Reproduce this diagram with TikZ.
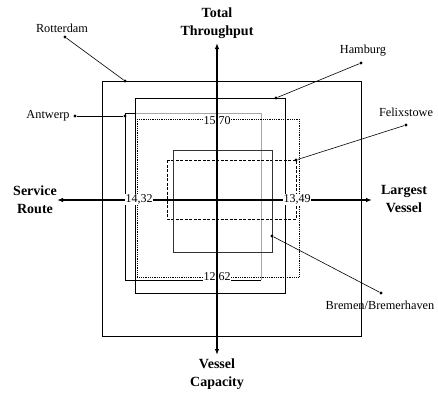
\documentclass[tikz,border=0pt]{standalone}
\usepackage{fontspec}
\setmainfont{Liberation Serif}
\usetikzlibrary{arrows.meta}
\begin{document}
\begin{tikzpicture}[x=1pt,y=-1pt,
  axis/.style={line width=1.4pt,{Latex[length=6pt,width=4.5pt]}-{Latex[length=6pt,width=4.5pt]}},
  axlabel/.style={font=\fontsize{14}{18}\selectfont\bfseries, align=center, inner sep=0pt},
  port/.style={font=\fontsize{12.3}{14}\selectfont, inner sep=0pt},
  val/.style={font=\fontsize{12}{14}\selectfont, fill=white, inner sep=0.6pt},
  pdot/.style={circle, fill=black, inner sep=0pt, minimum size=3.4pt},
  leader/.style={line width=0.6pt},
  rotter/.style={line width=0.6pt},
  hamb/.style={line width=0.8pt},
  antw/.style={line width=0.6pt},
  meanbox/.style={line width=0.8pt, densely dotted},
  felix/.style={line width=0.6pt, dash pattern=on 3pt off 1.5pt},
  bremen/.style={line width=0.5pt, black!80}
]
\useasboundingbox (0,0) rectangle (438,392);

% axes end points
\coordinate (axT) at (217,43);
\coordinate (axB) at (217,355);
\coordinate (axL) at (57,200);
\coordinate (axR) at (372,200);

% rectangles
\draw[rotter] (102,81) rectangle (361,336);
\draw[hamb] (135,98) rectangle (285,293);
\draw[antw, black!35] (136,113) -- (261,113) -- (261,280);
\draw[antw] (136,113) -- (125,113) -- (125,280) -- (261,280);
\draw[meanbox] (137,119) rectangle (299,277);
\draw[felix] (167,160) rectangle (296,219);
\draw[bremen] (173,150) rectangle (272,252);

% horizontal axis
\draw[axis] (axL) -- (axR);

% values
\node[val] (v1) at (217,121) {15,70};
\node[val] (v2) at (139,199) {14,32};
\node[val] (v3) at (297,199) {13,49};
\node[val] (v4) at (217,277) {12,62};

% vertical axis
\draw[axis] (axT) -- (axB);

% axis labels
\node[axlabel] (tt) at (217,23) {Total\\Throughput};
\node[axlabel] (sr) at (35,200) {Service\\Route};
\node[axlabel] (lv) at (404,199) {Largest\\Vessel};
\node[axlabel] (vc) at (217,374) {Vessel\\Capacity};

% port labels
\node[port] (tRot) at (62,28) {Rotterdam};
\node[port] (tHam) at (363,51) {Hamburg};
\node[port] (tAnt) at (48,116) {Antwerp};
\node[port] (tFel) at (406,112) {Felixstowe};
\node[port] (tBre) at (380,305) {Bremen/Bremerhaven};

% leader dots
\node[pdot] (dRot) at (65,37) {};
\node[pdot] (pRot) at (125,81) {};
\node[pdot] (dHam) at (361,63) {};
\node[pdot] (pHam) at (276,98) {};
\node[pdot] (dAnt) at (75,116) {};
\node[pdot] (pAnt) at (125,116) {};
\node[pdot] (dFel) at (406,125) {};
\node[pdot] (pFel) at (296,160) {};
\node[pdot] (dBre) at (381,293) {};
\node[pdot] (pBre) at (272,236) {};

\draw[leader] (dRot) -- (pRot);
\draw[leader] (dHam) -- (pHam);
\draw[leader] (dAnt) -- (pAnt);
\draw[leader] (dFel) -- (pFel);
\draw[leader] (dBre) -- (pBre);
\end{tikzpicture}
\end{document}
